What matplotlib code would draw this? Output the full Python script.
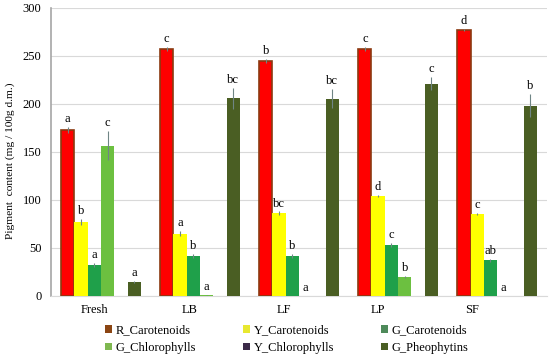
import matplotlib
matplotlib.use("Agg")
import matplotlib.pyplot as plt
import numpy as np
from matplotlib.patches import Patch

plt.rcParams['font.family'] = ['Liberation Serif', 'DejaVu Serif']

categories = ["Fresh", "LB", "LF", "LP", "SF"]
series = ["R_Carotenoids", "Y_Carotenoids", "G_Carotenoids",
          "G_Chlorophylls", "Y_Chlorophylls", "G_Pheophytins"]

R_Carotenoids = [173, 257, 245, 257, 277]
Y_Carotenoids = [77, 65, 86, 104.5, 85.5]
G_Carotenoids = [32, 42, 42, 53.5, 37]
G_Chlorophylls = [156.5, 1, 0, 19.5, 0]
Y_Chlorophylls = [0, 0, 0, 0, 0]
G_Pheophytins = [15, 206, 205.5, 221, 198]

R_err = [3, 2, 2, 2, 1]
Y_err = [3, 3, 2, 1, 1]
GC_err = [2, 2, 2, 2, 2]
GCh_err = [15, 0.5, 0, 1, 0]
YCh_err = [0, 0, 0, 0, 0]
GP_err = [1, 11, 10, 7, 12]

R_let = ["a", "c", "b", "c", "d"]
Y_let = ["b", "a", "bc", "d", "c"]
GC_let = ["a", "b", "b", "c", "ab"]
GCh_let = ["c", "a", "a", "b", "a"]
YCh_let = ["", "", "", "", ""]
GP_let = ["a", "bc", "bc", "c", "b"]

values = [R_Carotenoids, Y_Carotenoids, G_Carotenoids, G_Chlorophylls, Y_Chlorophylls, G_Pheophytins]
errors = [R_err, Y_err, GC_err, GCh_err, YCh_err, GP_err]
letters = [R_let, Y_let, GC_let, GCh_let, YCh_let, GP_let]

fills = ['#FF0000', '#FFFF00', '#1FA04A', '#6CC040', '#3B2A48', '#4A5E23']
legend_cols = ['#8B4513', '#E8E830', '#4E8A5A', '#7FB850', '#3B2A48', '#4A5E23']
edges = ['#8B3A10', 'none', 'none', 'none', 'none', 'none']

fig = plt.figure(figsize=(5.5, 3.59), dpi=100)
ax = fig.add_axes([0.0927, 0.1755, 0.9023, 0.8025])

x = np.arange(len(categories))
w = 0.1343
for k in range(len(series)):
    pos = x - 3 * w + (k + 0.5) * w
    ax.bar(pos, values[k], width=w, color=fills[k],
           edgecolor=edges[k], linewidth=1.2 if edges[k] != 'none' else 0, zorder=3)
    ax.errorbar(pos, values[k], yerr=errors[k], fmt='none', ecolor='#6F8585',
                elinewidth=0.8, capsize=0, zorder=4)
    for p, v, e, t in zip(pos, values[k], errors[k], letters[k]):
        if t:
            ax.text(p, v + e + 2, t, ha='center', va='bottom', fontsize=9, zorder=5)

ax.set_xlim(-0.504, 4.506)
ax.set_ylim(0, 300)
ax.set_yticks(np.arange(0, 301, 50))
ax.yaxis.grid(True, color='#D9D9D9', linewidth=0.8, zorder=0)
ax.set_axisbelow(True)
tick_pos = -0.06 + 0.952 * x
ax.set_xticks(tick_pos)
ax.set_xticklabels(categories, fontsize=9)
ax.tick_params(axis='both', length=0, labelsize=9)
ax.tick_params(axis='x', pad=6)
ax.tick_params(axis='y', pad=7)
for s in ['top', 'right']:
    ax.spines[s].set_visible(False)
ax.spines['left'].set_color('#A6A6A6')
ax.spines['left'].set_linewidth(1.2)
ax.spines['bottom'].set_color('#D9D9D9')
ax.set_ylabel("Pigment  content (mg / 100g d.m.)", fontsize=8.2)
ax.yaxis.set_label_coords(-0.073, 0.47)

order = [0, 3, 1, 4, 2, 5]
handles = [Patch(facecolor=legend_cols[i], edgecolor='none') for i in order]
labels = [series[i] for i in order]
fig.legend(handles, labels, ncol=3, loc='center', bbox_to_anchor=(0.522, 0.055),
           frameon=False, fontsize=9, handlelength=0.55, handleheight=0.55,
           handletextpad=0.3, columnspacing=3.75, labelspacing=0.45)

fig.savefig("out.png", dpi=100)
